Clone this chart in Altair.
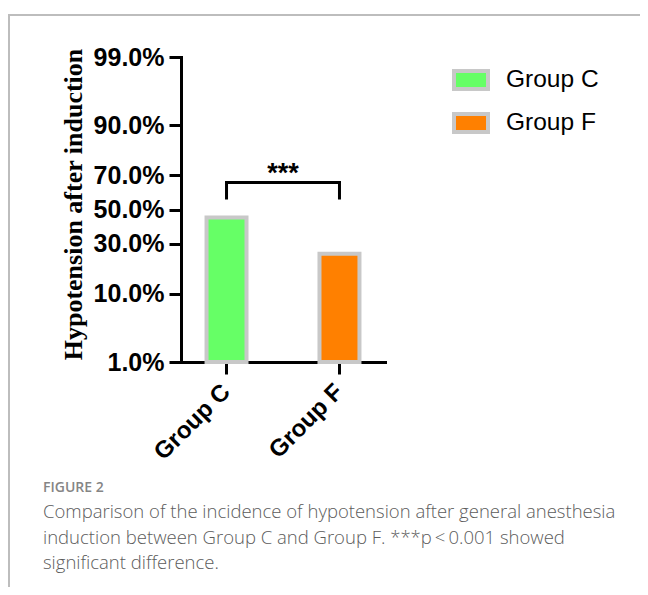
import altair as alt
import pandas as pd
from statistics import NormalDist

# ---- data ----
groups = ["Group C", "Group F"]
rates = [0.451, 0.250]
colors = ["#66ff66", "#ff8000"]
tick_pcts = [0.01, 0.10, 0.30, 0.50, 0.70, 0.90, 0.99]
bracket_groups = ["Group C", "Group C", "Group F", "Group F"]
bracket_rates = [0.561, 0.660, 0.660, 0.561]
bracket_order = [0, 1, 2, 3]
star_text = ["***"]
star_rates = [0.660]
caption_title = ["FIGURE 2"]
caption_lines = [
    "Comparison of the incidence of hypotension after general anesthesia",
    "induction between Group C and Group F. ***p\u2009<\u20090.001 showed",
    "significant difference.",
]
y_title = "Hypotension after induction"

probit = NormalDist().inv_cdf
y_min, y_max = probit(tick_pcts[0]), probit(tick_pcts[-1])
tick_vals = [probit(p) for p in tick_pcts]

W, H = 204, 305

yscale = alt.Scale(domain=[y_min, y_max], nice=False, zero=False)
xscale = alt.Scale(domain=groups, paddingInner=0.646, paddingOuter=0.226)
y_axis = alt.Axis(values=tick_vals, title=y_title,
                  labelExpr="format(cumulativeNormal(datum.value), '.1%')")
x_axis = alt.Axis(title=None)

bars_df = pd.DataFrame({"group": groups, "rate": rates})
bars = alt.Chart(bars_df).transform_calculate(
    z="quantileNormal(datum.rate)",
    z0=f"quantileNormal({tick_pcts[0]})",
).mark_bar(stroke="#c8c8c8", strokeWidth=4, opacity=1).encode(
    x=alt.X("group:N", scale=xscale, sort=groups, axis=x_axis),
    y=alt.Y("z:Q", scale=yscale, axis=y_axis),
    y2="z0:Q",
    color=alt.Color(
        "group:N",
        scale=alt.Scale(domain=groups, range=colors),
        legend=alt.Legend(
            orient="none", legendX=271, legendY=4, title=None,
            symbolType="M-1,-0.53H1V0.53H-1Z", symbolSize=1156,
            symbolStrokeColor="#c8c8c8", symbolStrokeWidth=4,
            symbolOpacity=1,
            labelFont="Liberation Sans", labelFontSize=24.5, labelColor="black",
            labelOffset=16, rowPadding=6,
        ),
    ),
)

bracket_df = pd.DataFrame({"group": bracket_groups, "rate": bracket_rates,
                           "idx": bracket_order})
bracket = alt.Chart(bracket_df).transform_calculate(
    z="quantileNormal(datum.rate)"
).mark_line(color="black", strokeWidth=3, strokeJoin="miter").encode(
    x=alt.X("group:N", scale=xscale, sort=groups, axis=x_axis),
    y=alt.Y("z:Q", scale=yscale, axis=y_axis),
    order="idx:Q",
)

star_df = pd.DataFrame({"t": star_text, "rate": star_rates})
stars = alt.Chart(star_df).transform_calculate(
    z="quantileNormal(datum.rate)"
).mark_text(fontSize=27, fontWeight="bold", font="Liberation Sans",
            color="black", baseline="alphabetic", dy=0).encode(
    x=alt.value(W / 2),
    y=alt.Y("z:Q", scale=yscale, axis=y_axis),
    text="t:N",
)

one = pd.DataFrame({"a": [0]})
frame_top = alt.Chart(one).mark_rule(color="#bdbdbd", strokeWidth=2).encode(
    x=alt.value(-173), x2=alt.value(460), y=alt.value(-42)
)
frame_left = alt.Chart(one).mark_rule(color="#bdbdbd", strokeWidth=2).encode(
    x=alt.value(-172), y=alt.value(-42), y2=alt.value(540)
)

fig_label = alt.Chart(pd.DataFrame({"t": caption_title})).mark_text(
    font="Open Sans", fontSize=14, fontWeight=600, color="#858585",
    align="left", baseline="alphabetic",
).encode(x=alt.value(-138), y=alt.value(435), text="t:N")

caption = alt.Chart(pd.DataFrame({"t": ["\n".join(caption_lines)]})).mark_text(
    font="Open Sans", fontSize=18.5, fontWeight=300, color="#5c5c5c",
    align="left", baseline="alphabetic", lineBreak="\n", lineHeight=25.5,
).encode(x=alt.value(-138), y=alt.value(461), text="t:N")

chart = alt.layer(frame_top, frame_left, bars, bracket, stars,
                  fig_label, caption).properties(
    width=W, height=H,
    autosize=alt.AutoSizeParams(type="none"),
    padding={"left": 173, "top": 49, "right": 255, "bottom": 225},
).configure_view(stroke=None).configure_axis(
    domainColor="black", domainWidth=3, domainCap="square",
    tickColor="black", tickWidth=3, tickSize=12,
    labelColor="black", labelFont="Liberation Sans", labelFontWeight="bold",
    labelFontSize=24, grid=False, titleColor="black", zindex=1,
).configure_axisY(
    titleFont="Liberation Serif", titleFontSize=26, titleFontWeight="bold",
    titlePadding=7, labelPadding=5, labelFontSize=25, titleY=147,
).configure_axisX(
    labelAngle=-45, labelPadding=14, labelAlign="right", labelBaseline="middle",
)

chart.save("out.html", embed_options={"renderer": "svg", "actions": False})
